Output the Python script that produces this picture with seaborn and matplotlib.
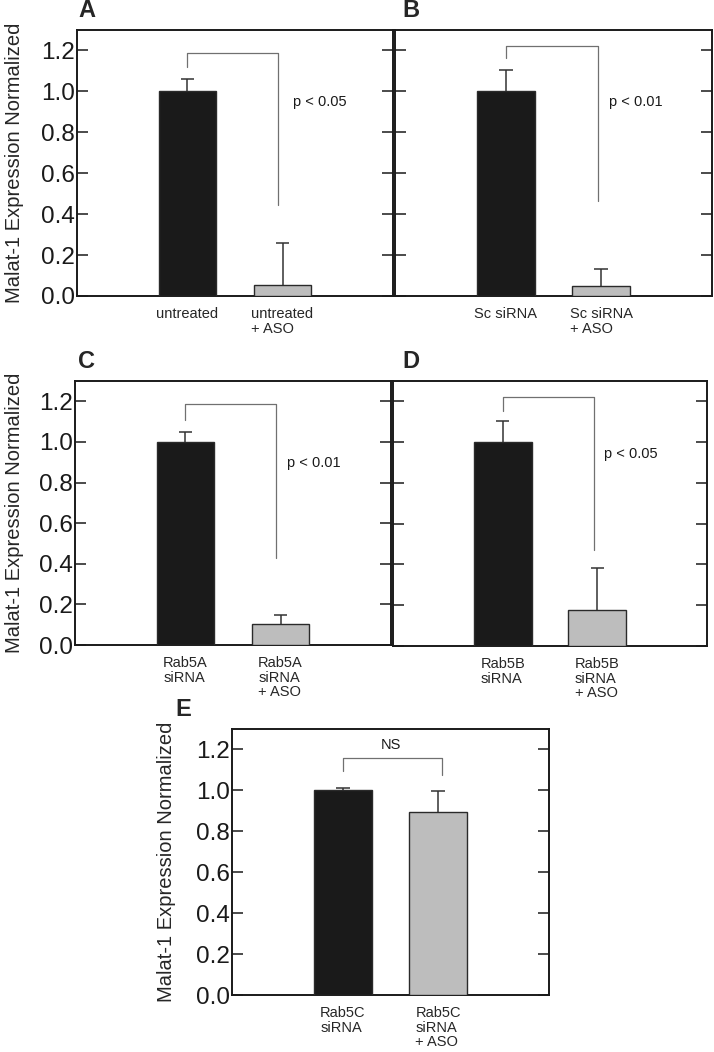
import matplotlib
matplotlib.use("Agg")
import matplotlib.pyplot as plt
import seaborn as sns
import pandas as pd

sns.set_style("white")
plt.rcParams['font.family'] = ['Liberation Sans', 'DejaVu Sans']

# ---- data ----
panel_letters = ["A", "B", "C", "D", "E"]
cats_A = ["untreated", "untreated\n+ ASO"]
cats_B = ["Sc siRNA", "Sc siRNA\n+ ASO"]
cats_C = ["Rab5A\nsiRNA", "Rab5A\nsiRNA\n+ ASO"]
cats_D = ["Rab5B\nsiRNA", "Rab5B\nsiRNA\n+ ASO"]
cats_E = ["Rab5C\nsiRNA", "Rab5C\nsiRNA\n+ ASO"]
vals_A = [1.00, 0.055]
vals_B = [1.00, 0.05]
vals_C = [1.00, 0.105]
vals_D = [1.00, 0.175]
vals_E = [1.00, 0.893]
err_A = [0.06, 0.205]
err_B = [0.105, 0.083]
err_C = [0.048, 0.043]
err_D = [0.104, 0.208]
err_E = [0.010, 0.106]
sig_labels = ["p < 0.05", "p < 0.01", "p < 0.01", "p < 0.05", "NS"]
y_ticks = [0.0, 0.2, 0.4, 0.6, 0.8, 1.0, 1.2]
ylabel = "Malat-1 Expression Normalized"

bar_colors = ["#1a1a1a", "#bdbdbd"]

W, H = 714, 1052
fig = plt.figure(figsize=(W / 100, H / 100), dpi=100)

def px_axes(l, t, r, b):
    return fig.add_axes([l / W, 1 - b / H, (r - l) / W, (b - t) / H])

boxes = [(77, 30, 393, 296), (395, 30, 712, 296),
         (75, 381, 391, 645), (393, 381, 707, 646),
         (232, 729, 549, 995)]
cats_all = [cats_A, cats_B, cats_C, cats_D, cats_E]
vals_all = [vals_A, vals_B, vals_C, vals_D, vals_E]
errs_all = [err_A, err_B, err_C, err_D, err_E]

# bracket geometry (data coords): (top, left-leg bottom, right x, right-leg bottom)
brackets = [(1.19, 1.12, 0.953, 0.445),
            (1.224, 1.165, 0.97, 0.465),
            (1.185, 1.11, 0.95, 0.427),
            (1.223, 1.155, 0.963, 0.471),
            (1.156, 1.094, 1.044, 1.077)]
text_pos = [(1.11, 0.95, 'left'), (1.08, 0.95, 'left'), (1.07, 0.898, 'left'),
            (1.07, 0.94, 'left'), (0.508, 1.224, 'center')]
show_ylabels = [True, False, True, False, True]
ylabel_right_px = [24, None, 24, None, 176]
letter_x_px = [78, 402, 78, 402, 175]

for i, box in enumerate(boxes):
    ax = px_axes(*box)
    df = pd.DataFrame({"cond": cats_all[i], "val": vals_all[i]})
    sns.barplot(data=df, x="cond", y="val", hue="cond", palette=bar_colors,
                order=cats_all[i], hue_order=cats_all[i], legend=False,
                width=0.61, edgecolor="#2a2a2a", linewidth=1.0, ax=ax,
                errorbar=None, zorder=3)
    xs = [0, 1]
    tops = [v + e for v, e in zip(vals_all[i], errs_all[i])]
    ax.vlines(xs, vals_all[i], tops, color="#333333", lw=1.1, zorder=2)
    ax.hlines(tops, [x - 0.07 for x in xs], [x + 0.07 for x in xs],
              color="#333333", lw=1.1, zorder=2)
    ax.set_xlim(-1.163, 2.163)
    ax.set_ylim(0, 1.3)
    ax.set_yticks(y_ticks)
    ax.set_xlabel("")
    for s in ax.spines.values():
        s.set_visible(True)
        s.set_color("#1a1a1a")
        s.set_linewidth(1.4)
    ax.tick_params(axis='y', direction='in', length=8, width=1.1, left=True,
                   right=True, labelsize=17.5, pad=1.5, colors="#1a1a1a")
    ax.tick_params(axis='x', length=0, pad=8, labelsize=10.5)
    for lab in ax.get_xticklabels():
        lab.set_multialignment('left')
        lab.set_linespacing(1.05)
    if show_ylabels[i]:
        ax.set_yticklabels([f"{t:.1f}" for t in y_ticks])
        ax.set_ylabel(ylabel, fontsize=14.5)
        ax.yaxis.set_label_coords((ylabel_right_px[i] - box[0]) / (box[2] - box[0]), 0.5)
    else:
        ax.set_yticklabels([])
        ax.set_ylabel("")
    top, lb, rx, rb = brackets[i]
    ax.plot([0, 0, rx, rx], [lb, top, top, rb], color="#707070", lw=0.9, zorder=4)
    tx, ty, ha = text_pos[i]
    ax.text(tx, ty, sig_labels[i], fontsize=10.5, ha=ha, va='center', color="#1a1a1a")
    ax.text((letter_x_px[i] - box[0]) / (box[2] - box[0]), 1.03, panel_letters[i],
            transform=ax.transAxes, fontsize=17, fontweight='bold',
            ha='left', va='bottom')

fig.savefig("out.png", dpi=100)
